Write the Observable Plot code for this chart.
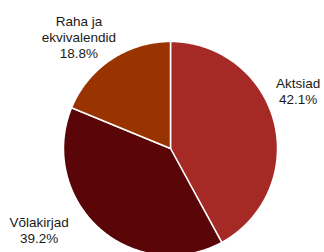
<!DOCTYPE html>
<html><head><meta charset="utf-8">
<script src="https://cdn.jsdelivr.net/npm/d3@7"></script>
<script src="https://cdn.jsdelivr.net/npm/@observablehq/plot@0.6"></script>
<style>html,body{margin:0;padding:0;background:#fff;overflow:hidden}</style>
</head><body><div id="chart"></div>
<script>
const categories = ["Aktsiad", "Võlakirjad", "Raha ja ekvivalendid"];
const shares = [42.1, 39.2, 18.8];
const labelNames = ["Aktsiad", "Võlakirjad", "Raha ja\nekvivalendid"];
const colors = ["#A52A25", "#5A0609", "#993300"];

const total = d3.sum(shares);
let acc = 0;
const slices = categories.map((c, i) => {
  const a0 = acc / total * 2 * Math.PI;
  acc += shares[i];
  const a1 = acc / total * 2 * Math.PI;
  return {name: c, value: shares[i], a0, a1, mid: (a0 + a1) / 2,
          label: labelNames[i] + "\n" + shares[i].toFixed(1) + "%"};
});
const pts = [];
for (const s of slices) {
  pts.push({name: s.name, x: 0, y: 0});
  const n = Math.max(2, Math.ceil((s.a1 - s.a0) / (Math.PI / 360)));
  for (let k = 0; k <= n; k++) {
    const a = s.a0 + (s.a1 - s.a0) * k / n;
    pts.push({name: s.name, x: Math.sin(a), y: Math.cos(a)});
  }
  pts.push({name: s.name, x: 0, y: 0});
}
// label nudges (pixels) from the slice's outer mid-point
const nudge = {"Aktsiad": [24, -31], "Võlakirjad": [-60, 2], "Raha ja ekvivalendid": [-32, -23]};

const plot = Plot.plot({
  width: 324, height: 252,
  x: {domain: [-1, 1], range: [63, 277], axis: null},
  y: {domain: [-1, 1], range: [255, 41], axis: null},
  color: {domain: categories, range: colors},
  marks: [
    Plot.line(pts, {x: "x", y: "y", z: "name", fill: "name", stroke: "white", strokeWidth: 1.5, strokeLinejoin: "round"}),
    ...slices.map(s => Plot.text([s], {
      x: d => Math.sin(d.mid), y: d => Math.cos(d.mid), text: "label",
      dx: nudge[s.name][0], dy: nudge[s.name][1],
      fontSize: 13.5, fontFamily: "Liberation Sans, Arial, sans-serif", fill: "#1a1a1a",
      lineHeight: 1.19, lineAnchor: "middle", textAnchor: "middle"
    }))
  ]
});
document.getElementById("chart").appendChild(plot);
</script>
</body></html>
